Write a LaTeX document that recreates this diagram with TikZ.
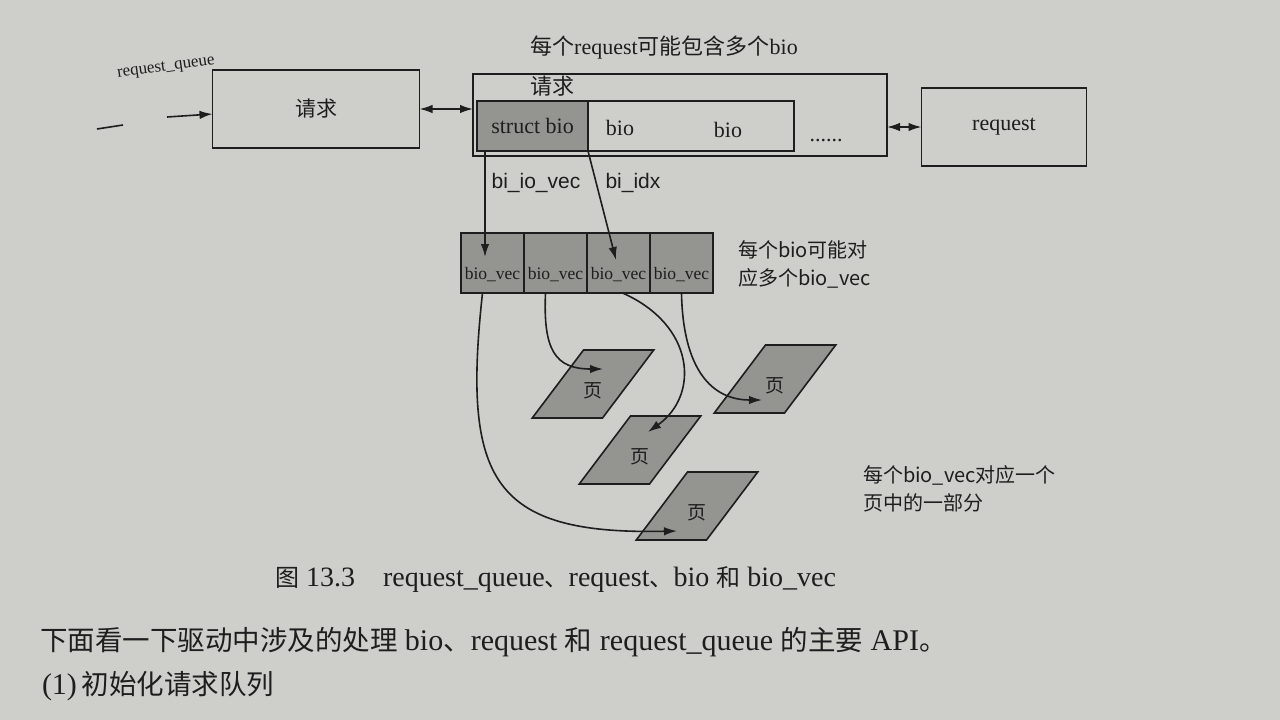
\documentclass[tikz,border=0pt]{standalone}
\usepackage{fontspec}
\setmainfont{Liberation Serif}
\newfontfamily\cjk{Noto Sans CJK SC}
\newfontfamily\labfont{Liberation Sans}
\usetikzlibrary{shapes.geometric,arrows.meta}
\definecolor{paper}{RGB}{206,206,202}
\definecolor{shade}{RGB}{148,148,144}
\definecolor{ink}{RGB}{30,30,30}
\newcommand\zh[1]{{\cjk #1}}
\newcommand\zhcap[1]{{\cjk\fontsize{24}{28}\selectfont #1}}
\newcommand\zhbody[1]{{\cjk\fontsize{27.5}{32}\selectfont #1}}

\begin{document}
\begin{tikzpicture}[x=1pt,y=-1pt,
  every node/.style={align=center,inner sep=0pt,outer sep=0pt,text=ink,font=\fontsize{22}{26}\selectfont},
  box/.style={draw=ink,line width=1.6pt},
  cell/.style={draw=ink,line width=1.6pt,fill=shade},
  page/.style={trapezium,trapezium left angle=53,trapezium right angle=127,
    trapezium stretches body,draw=ink,line width=1.6pt,fill=shade,
    text height=47pt,text depth=21pt,minimum width=121pt,
    font=\cjk\fontsize{19}{22}\selectfont},
  lab/.style={font=\labfont\fontsize{21}{24}\selectfont},
  note/.style={align=left,font=\cjk\fontsize{20}{28}\selectfont},
  vecfont/.style={font=\fontsize{17.5}{20}\selectfont},
  link/.style={draw=ink,line width=1.6pt},
  >={Latex[length=13pt,width=8.5pt]}]
\fill[paper] (0,0) rectangle (1280,720);
\useasboundingbox (0,0) rectangle (1280,720);

% request queue
\node[box,minimum width=207pt,minimum height=78pt,font=\cjk\fontsize{21}{24}\selectfont] (queue) at (316,109) {请求};
\node[font=\fontsize{17}{20}\selectfont,rotate=8] (qname) at (166,68) {request\_queue};
\coordinate (dashL) at (97,129);
\coordinate (dashR) at (123,125);
\coordinate (qin) at (167,117);
\draw[link] (dashL) -- (dashR);
\draw[link,->] (qin) -- ([yshift=-5pt]queue.west);

% request with its bios
\node (reqnote) at (664,48) {\zh{每个}request\zh{可能包含多个}bio};
\node[box,minimum width=414pt,minimum height=82pt] (req) at (680,115) {};
\node[font=\cjk\fontsize{22}{26}\selectfont] (reqtitle) at (552,86) {请求};
\node[cell,minimum width=111pt,minimum height=50pt] (sbio) at (532.5,126) {struct bio};
\node[box,minimum width=206pt,minimum height=50pt,anchor=west] (biorow) at (sbio.east) {};
\node (bioa) at (620,128) {bio};
\node (biob) at (728,130) {bio};
\node (dots) at (826,141) {......};
\node[box,minimum width=165pt,minimum height=78pt] (rreq) at (1004,127) {request};

\draw[link,<->] (queue.east) -- (queue.east -| req.west);
\draw[link,<->] ([yshift=-12pt]req.east) -- ([yshift=-12pt]req.east -| rreq.west);

% bio_vec array
\foreach \i in {1,...,4}{
  \node[cell,minimum width=63pt,minimum height=60pt] (v\i) at (429.5+63*\i,263) {};
  \node[vecfont] (vt\i) at ([yshift=-12pt]v\i.center) {bio\_vec};
}
\node[note,anchor=west] (vecnote) at (738,264) {每个bio可能对\\应多个bio\_vec};

\coordinate (ioTip) at (485,257);
\coordinate (idxTip) at (616,260);
\draw[link,->] (sbio.south -| ioTip) -- (ioTip);
\draw[link,->] (sbio.south east) -- (idxTip);
\node[lab] (iolab) at (536,183) {bi\_io\_vec};
\node[lab] (idxlab) at (633,183) {bi\_idx};

% pages
\node[page] (p1) at (593,384) {页};
\node[page] (p2) at (640,450) {页};
\node[page] (p3) at (697,506) {页};
\node[page] (p4) at (775,379) {页};
\node[note,anchor=west] (pagenote) at (863,489) {每个bio\_vec对应一个\\页中的一部分};

\draw[link,->] ([xshift=-10pt]v1.south) .. controls (462,480) and (492,535) .. ([shift={(-20,25)}]p3.center);
\draw[link,->] ([xshift=-10pt]v2.south) .. controls (543,350) and (555,369) .. ([shift={(10,-15)}]p1.center);
\draw[link,->] ([xshift=4pt]v3.south) .. controls (695,325) and (700,395) .. ([shift={(8,-18)}]p2.center);
\draw[link,->] (v4.south) .. controls (683,370) and (712,400) .. ([shift={(-13,21)}]p4.center);

% caption and page text
\node[font=\fontsize{28}{32}\selectfont,anchor=west] (caption) at (275,580) {\zhcap{图} 13.3\quad request\_queue\zhcap{、}request\zhcap{、}bio \zhcap{和} bio\_vec};
\node[anchor=west,font=\fontsize{30}{34}\selectfont] (body1) at (40,642) {\zhbody{下面看一下驱动中涉及的处理} bio\zhbody{、}request \zhbody{和} request\_queue \zhbody{的主要} API\zhbody{。}};
\node[anchor=west,font=\fontsize{30}{34}\selectfont] (body2) at (42,686) {(1)\,\zhbody{初始化请求队列}};
\end{tikzpicture}
\end{document}
